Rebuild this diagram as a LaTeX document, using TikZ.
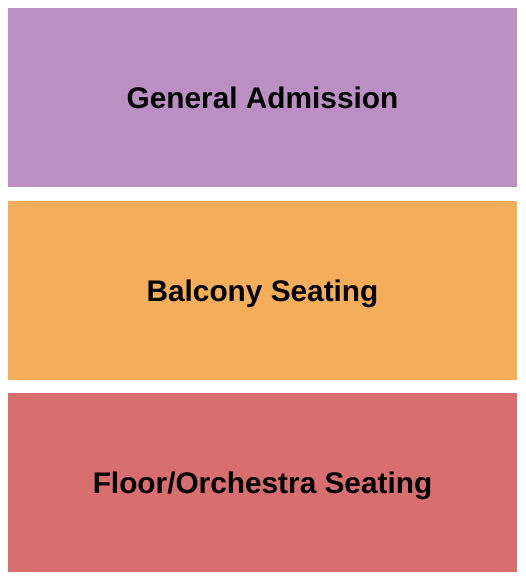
\documentclass[tikz,border=0pt]{standalone}
\usepackage{fontspec}
\setmainfont{Liberation Sans}
\usepackage{tikz}
\definecolor{gapurple}{HTML}{BB8FC3}
\definecolor{balcorange}{HTML}{F4AE5A}
\definecolor{floorred}{HTML}{D86E6E}
\begin{document}
\begin{tikzpicture}[x=1pt, y=-1pt,
                    section/.style={rectangle, inner sep=0pt, outer sep=0pt,
                      minimum width=509pt, minimum height=179pt,
                      text height=21.3pt, text depth=0pt,
                      font=\fontsize{29.8}{32}\selectfont\bfseries}]
      \useasboundingbox (0,0) rectangle (525,580);
      \foreach \name/\col/\y/\txt in {ga/gapurple/97.5/{General Admission},
                                      balc/balcorange/290.5/{Balcony Seating},
                                      floor/floorred/482.5/{Floor/Orchestra Seating}}{
        \node[section, fill=\col] (\name) at (262.5,\y) {\txt};
      }
    \end{tikzpicture}
\end{document}
